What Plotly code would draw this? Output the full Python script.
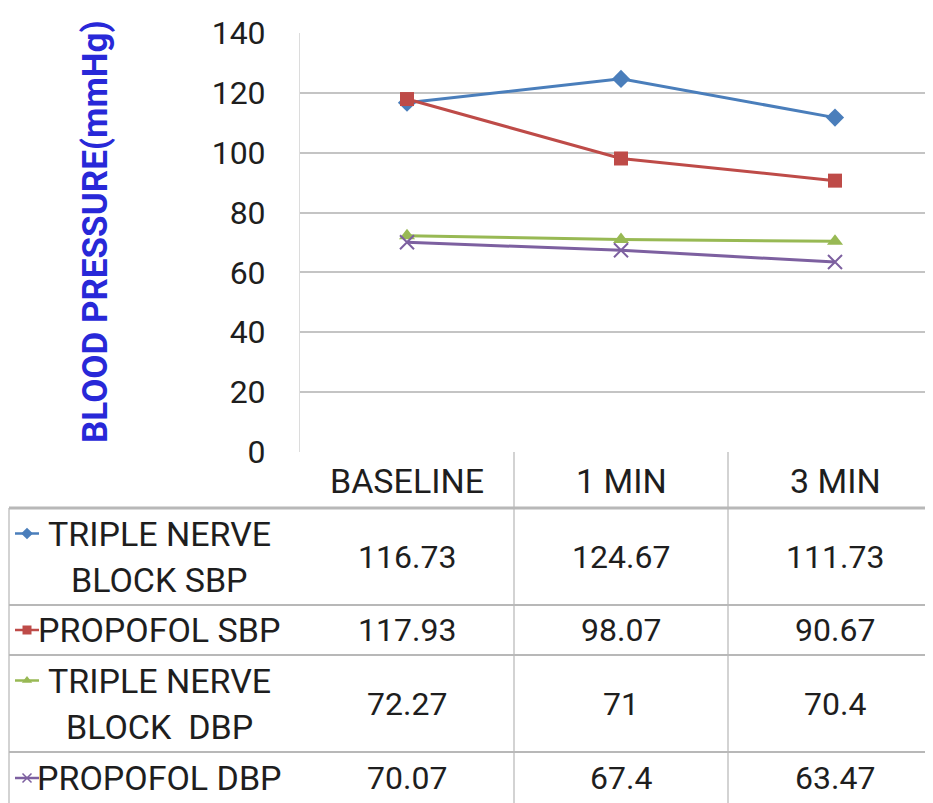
import plotly.graph_objects as go

# data
categories = ["BASELINE", "1 MIN", "3 MIN"]
series_names = ["TRIPLE NERVE<br>BLOCK SBP", "PROPOFOL SBP",
                "TRIPLE NERVE<br>BLOCK\u00a0 DBP", "PROPOFOL DBP"]
tnb_sbp = [116.73, 124.67, 111.73]
propofol_sbp = [117.93, 98.07, 90.67]
tnb_dbp = [72.27, 71, 70.4]
propofol_dbp = [70.07, 67.4, 63.47]
y_ticks = [0, 20, 40, 60, 80, 100, 120, 140]

series_values = [tnb_sbp, propofol_sbp, tnb_dbp, propofol_dbp]
colors = ["#4a7ebb", "#be4b48", "#98b954", "#7d60a0"]
symbols = ["diamond", "square", "triangle-up", "x-thin"]

W, H = 933, 803
OFF = 8  # page body margin: the figure starts 8px in from the corner
FONT = "Roboto, 'Open Sans', sans-serif"
TXT = "#1e1e1e"
GRID = "#c4c4c4"
LBL_SIZE = 34
NUM_SIZE = 32

# plot area in screen pixels
PL, PT, PB = 300, 33, 452
cat_w = 214.0
right_edge = W + OFF


def fx(px):
    return (px - OFF) / W


def fy(py):
    return 1 - (py - OFF) / H


fig = go.Figure()

for name, vals, col, sym in zip(series_names, series_values, colors, symbols):
    fig.add_trace(go.Scatter(
        x=list(range(len(categories))), y=vals,
        mode="lines+markers",
        name=name.replace("<br>", " "),
        line=dict(color=col, width=3),
        marker=dict(symbol=sym, size=14, color=col,
                    line=dict(color=col, width=2 if sym == "x-thin" else 0)),
        xaxis="x", yaxis="y", showlegend=False, hoverinfo="skip",
    ))

# data table drawn on a second axis pair in screen pixel units
shapes = []
ann = []


def hline(y, x0, x1, w=1.5, c=GRID):
    shapes.append(dict(type="line", xref="x2", yref="y2", x0=x0, x1=x1, y0=y, y1=y,
                       line=dict(color=c, width=w)))


def vline(x, y0, y1, w=1.5, c=GRID):
    shapes.append(dict(type="line", xref="x2", yref="y2", x0=x, x1=x, y0=y0, y1=y1,
                       line=dict(color=c, width=w)))


col_centers = [PL + cat_w * (i + 0.5) for i in range(len(categories))]
row_bounds = [508, 605, 655, 752, 810]

# header
for c, x in zip(categories, col_centers):
    ann.append(dict(x=x, y=481, text=c, size=LBL_SIZE))
vline(PL + cat_w, PB, 811)
vline(PL + 2 * cat_w, PB, 811)
vline(9, row_bounds[0], 811)
hline(row_bounds[0], 9, right_edge, w=3, c="#b8b8b8")
for yb in row_bounds[1:-1]:
    hline(yb, 9, right_edge, w=2, c="#b8b8b8")

# body rows
for i, (name, vals, col, sym) in enumerate(zip(series_names, series_values, colors, symbols)):
    top, bot = row_bounds[i], row_bounds[i + 1]
    yc = (top + bot) / 2 if i < 3 else 778
    lines = name.split("<br>")
    ys = [yc - 23, yc + 23] if len(lines) == 2 else [yc]
    for ln, yy in zip(lines, ys):
        ann.append(dict(x=159, y=yy, text=ln, size=LBL_SIZE))
    # legend key
    shapes.append(dict(type="line", xref="x2", yref="y2", x0=15, x1=39, y0=ys[0], y1=ys[0],
                       line=dict(color=col, width=2.5)))
    fig.add_trace(go.Scatter(
        x=[27], y=[ys[0]], mode="markers", xaxis="x2", yaxis="y2",
        marker=dict(symbol=sym, size=9, color=col,
                    line=dict(color=col, width=1.5 if sym == "x-thin" else 0)),
        showlegend=False, hoverinfo="skip"))
    for v, x in zip(vals, col_centers):
        ann.append(dict(x=x, y=yc, text=f"{v:g}", size=NUM_SIZE))

annotations = []
for a in ann:
    size = a.pop("size")
    a.update(xref="x2", yref="y2", showarrow=False, xanchor="center", yanchor="middle",
             font=dict(family=FONT, size=size, color=TXT))
    annotations.append(a)

# y axis title
annotations.append(dict(
    xref="paper", yref="paper", x=fx(95), y=fy(232), text="<b>BLOOD PRESSURE(mmHg)</b>",
    textangle=-90, showarrow=False, xanchor="center", yanchor="middle",
    font=dict(family=FONT, size=35, color="#2828d8")))

fig.update_layout(
    width=W, height=H,
    margin=dict(l=0, r=0, t=0, b=0),
    paper_bgcolor="white", plot_bgcolor="rgba(0,0,0,0)",
    xaxis=dict(domain=[fx(PL), 1], range=[-0.5, (right_edge - PL) / cat_w - 0.5],
               showgrid=False, zeroline=False, showticklabels=False, showline=False,
               fixedrange=True),
    yaxis=dict(domain=[fy(PB), fy(PT)], range=[0, 140], tickvals=y_ticks,
               showgrid=True, gridcolor=GRID, gridwidth=1.5, zeroline=False,
               showline=True, linecolor="#dcdcdc", linewidth=1,
               ticks="", ticklabelstandoff=27, automargin=False,
               tickfont=dict(family=FONT, size=NUM_SIZE, color=TXT)),
    xaxis2=dict(domain=[0, 1], range=[OFF, right_edge], visible=False, anchor="y2"),
    yaxis2=dict(domain=[0, 1], range=[H + OFF, OFF], visible=False, anchor="x2"),
    shapes=shapes,
    annotations=annotations,
)

fig.write_html("out.html")
